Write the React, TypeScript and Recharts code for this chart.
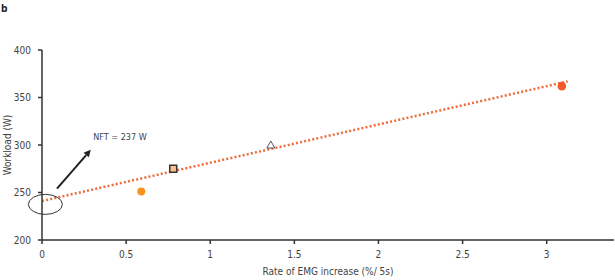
import React from "react";
import {
  ComposedChart,
  XAxis,
  YAxis,
  Scatter,
  Line,
  ReferenceDot,
  ReferenceLine,
} from "recharts";

const xTicks = [0, 0.5, 1, 1.5, 2, 2.5, 3];
const yTicks = [200, 250, 300, 350, 400];

const circleOrange = [{ x: 0.59, y: 251 }];
const squarePoint = [{ x: 0.78, y: 275 }];
const trianglePoint = [{ x: 1.36, y: 300 }];
const circleRed = [{ x: 3.09, y: 362 }];
const trendLine = [
  { x: 0, y: 241 },
  { x: 3.125, y: 367 },
];
const nftCenter = { x: 0.02, y: 237.5 };
const arrowSeg = [
  { x: 0.089, y: 254 },
  { x: 0.29, y: 295 },
];
const nftLabel = { x: 0.305, y: 308.5, text: "NFT = 237 W" };

const FONT = "'Liberation Sans Narrow', 'DejaVu Sans Condensed', sans-serif";
const AXIS = "#333";
const TXT = "#444";

const OrangeDot = (p: any) => <circle cx={p.cx} cy={p.cy} r={4} fill="#F7941D" />;
const RedDot = (p: any) => <circle cx={p.cx} cy={p.cy} r={4.3} fill="#F15A29" />;
const Square = (p: any) => (
  <rect x={p.cx - 3.5} y={p.cy - 3.5} width={7} height={7} fill="#F9C08F" stroke="#333" strokeWidth={1.5} />
);
const Triangle = (p: any) => (
  <polygon
    points={`${p.cx},${p.cy - 4} ${p.cx - 4},${p.cy + 3} ${p.cx + 4},${p.cy + 3}`}
    fill="#fff"
    stroke="#555"
    strokeWidth={1}
  />
);

const Ellipse = (p: any) => (
  <ellipse cx={p.cx} cy={p.cy} rx={17} ry={10} fill="none" stroke="#333" strokeWidth={1} />
);

const Arrow = (p: any) => {
  const { x1, y1, x2, y2 } = p;
  const ang = Math.atan2(y2 - y1, x2 - x1);
  const L = 7;
  const W = 3.5;
  const bx = x2 - L * Math.cos(ang);
  const by = y2 - L * Math.sin(ang);
  const px = -Math.sin(ang) * W;
  const py = Math.cos(ang) * W;
  return (
    <g>
      <line x1={x1} y1={y1} x2={bx} y2={by} stroke="#222" strokeWidth={2} />
      <polygon points={`${x2},${y2} ${bx + px},${by + py} ${bx - px},${by - py}`} fill="#222" />
    </g>
  );
};

const NftText = (p: any) => (
  <text x={p.cx} y={p.cy} dy="0.35em" fontSize={9} fill={TXT} fontFamily={FONT}>
    {nftLabel.text}
  </text>
);

export default function App() {
  return (
    <div style={{ position: "absolute", left: 0, top: 0, width: 615, height: 280, background: "#fff" }}>
      <ComposedChart
        width={615}
        height={280}
        margin={{ top: 50, right: 1, bottom: 10, left: 0 }}
        style={{ fontFamily: FONT }}
      >
        <text x={1} y={12} fontSize={10} fontWeight="bold" fill="#222" fontFamily={FONT}>
          b
        </text>
        <XAxis
          type="number"
          dataKey="x"
          domain={[0, 3.4]}
          ticks={xTicks}
          allowDataOverflow
          stroke={AXIS}
          strokeWidth={1.5}
          tickSize={4}
          tick={{ fill: TXT, fontSize: 10, fontFamily: FONT, dy: 5 }}
          tickLine={{ stroke: AXIS, strokeWidth: 1.5 }}
          height={30}
          label={{
            value: "Rate of EMG increase (%/ 5s)",
            position: "insideBottom",
            offset: 0,
            dy: 5,
            fill: TXT,
            fontSize: 10,
            fontFamily: FONT,
          }}
        />
        <YAxis
          type="number"
          dataKey="y"
          domain={[200, 400]}
          ticks={yTicks}
          allowDataOverflow
          stroke={AXIS}
          strokeWidth={1.5}
          tickSize={4}
          width={42}
          tick={{ fill: TXT, fontSize: 10, fontFamily: FONT, dx: -5 }}
          tickLine={{ stroke: AXIS, strokeWidth: 1.5 }}
          label={{
            value: "Workload (W)",
            angle: -90,
            position: "insideLeft",
            offset: 0,
            dx: 7,
            fill: TXT,
            fontSize: 10,
            fontFamily: FONT,
            style: { textAnchor: "middle" },
          }}
        />
        <Line
          data={trendLine}
          dataKey="y"
          type="linear"
          stroke="#EF6A3C"
          strokeWidth={2.5}
          strokeDasharray="2 2.2"
          dot={false}
          activeDot={false}
          isAnimationActive={false}
        />
        <Scatter data={circleOrange} dataKey="y" shape={OrangeDot} isAnimationActive={false} />
        <Scatter data={squarePoint} dataKey="y" shape={Square} isAnimationActive={false} />
        <Scatter data={trianglePoint} dataKey="y" shape={Triangle} isAnimationActive={false} />
        <Scatter data={circleRed} dataKey="y" shape={RedDot} isAnimationActive={false} />
        <ReferenceDot x={nftCenter.x} y={nftCenter.y} ifOverflow="visible" shape={Ellipse} />
        <ReferenceLine segment={arrowSeg} ifOverflow="visible" shape={Arrow} />
        <ReferenceDot x={nftLabel.x} y={nftLabel.y} ifOverflow="visible" shape={NftText} />
      </ComposedChart>
    </div>
  );
}
